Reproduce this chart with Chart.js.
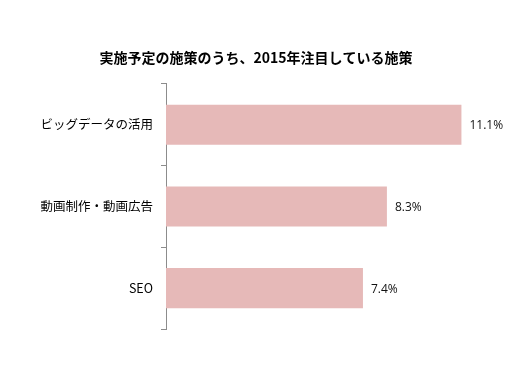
<!DOCTYPE html>
<html>
<head>
<meta charset="utf-8">
<script src="https://cdn.jsdelivr.net/npm/chart.js@4"></script>
<style>
  html, body { margin: 0; padding: 0; background: #fff; }
  #wrap { width: 512px; height: 384px; }
</style>
</head>
<body>
<div id="wrap"><canvas id="myChart" width="512" height="384"></canvas></div>
<script>
const categories = ['ビッグデータの活用', '動画制作・動画広告', 'SEO'];
const values = [11.1, 8.3, 7.4];
const valueLabels = ['11.1%', '8.3%', '7.4%'];
const chartTitle = '実施予定の施策のうち、2015年注目している施策';

const jpFont = '"Noto Sans CJK JP", "Noto Sans", sans-serif';

// draws the value text just after the end of each bar
const barValuePlugin = {
  id: 'barValue',
  afterDatasetsDraw(chart) {
    const ctx = chart.ctx;
    const meta = chart.getDatasetMeta(0);
    ctx.save();
    ctx.font = '12px "Open Sans", "DejaVu Sans", sans-serif';
    ctx.fillStyle = '#111';
    ctx.textAlign = 'left';
    ctx.textBaseline = 'middle';
    meta.data.forEach((bar, i) => {
      ctx.fillText(valueLabels[i], bar.x + 8, bar.y + 1);
    });
    ctx.restore();
  }
};

const ctx = document.getElementById('myChart');
new Chart(ctx, {
  type: 'bar',
  data: {
    labels: categories,
    datasets: [{
      data: values,
      backgroundColor: '#E6B9B8',
      borderWidth: 0,
      barPercentage: 0.49,
      categoryPercentage: 1
    }]
  },
  options: {
    indexAxis: 'y',
    responsive: false,
    animation: false,
    layout: { padding: { left: 0, right: 0, top: 0, bottom: 55 } },
    plugins: {
      legend: { display: false },
      tooltip: { enabled: false },
      title: {
        display: true,
        text: chartTitle,
        color: '#000',
        font: { family: jpFont, size: 14, weight: 'bold' },
        padding: { top: 49, bottom: 18 }
      }
    },
    scales: {
      x: {
        display: false,
        min: 0,
        max: 13
      },
      y: {
        afterFit(scale) { scale.width = 166; },
        border: { display: true, color: '#8c8c8c', width: 1 },
        grid: {
          drawOnChartArea: false,
          drawTicks: true,
          tickLength: 5,
          color: '#8c8c8c'
        },
        ticks: {
          color: '#000',
          padding: 8,
          font: { family: jpFont, size: 12.5 }
        }
      }
    }
  },
  plugins: [barValuePlugin]
});
</script>
</body>
</html>
